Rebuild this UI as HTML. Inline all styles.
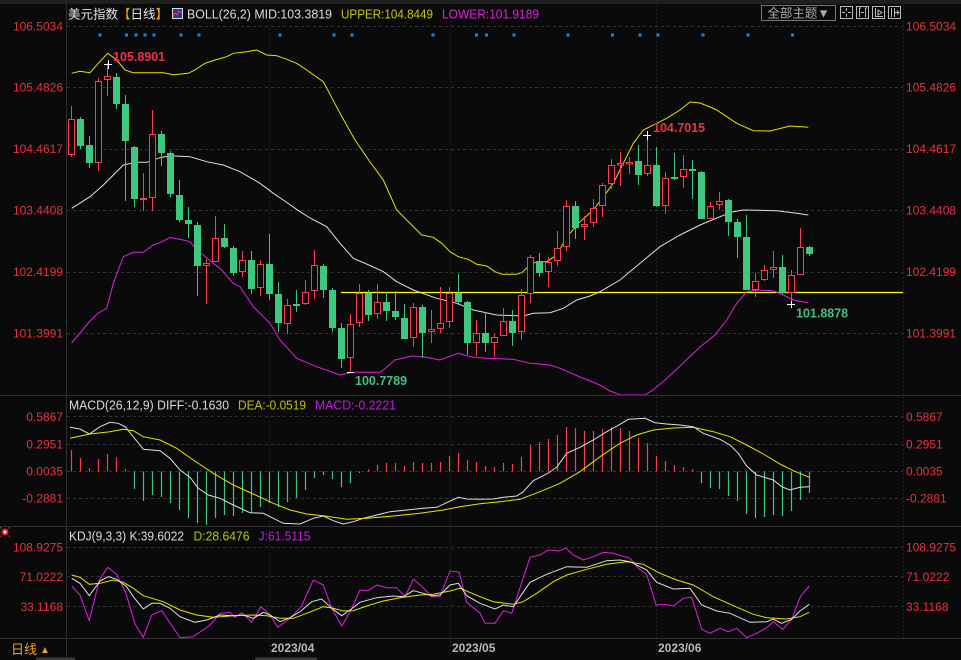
<!DOCTYPE html>
<html><head><meta charset="utf-8">
<style>
html,body{margin:0;padding:0;background:#0a0a0a;}
svg{display:block;font-family:"Liberation Sans","Noto Sans CJK SC",sans-serif;}
.lg{stroke:#3ec77f;stroke-width:1}
.rg{fill:#3ec77f}
.lr{stroke:#ff3b4e;stroke-width:1}
.rr{fill:#0a0a0a;stroke:#ff3b4e;stroke-width:1}
.ax{fill:#e8323c;font-size:12px}
.grid{stroke:#333;stroke-width:1;stroke-dasharray:3 3}
.vg{stroke:#333;stroke-width:1;stroke-dasharray:1 3}
.sep{stroke:#2e2e2e;stroke-width:1}
</style></head>
<body>
<svg width="961" height="660" viewBox="0 0 961 660" xmlns="http://www.w3.org/2000/svg">
<defs>
<clipPath id="cm"><rect x="67" y="5" width="836" height="390"/></clipPath>
<clipPath id="cd"><rect x="67" y="396" width="836" height="130"/></clipPath>
<clipPath id="ck"><rect x="67" y="527" width="836" height="111"/></clipPath>
</defs>
<rect x="0" y="0" width="961" height="660" fill="#0a0a0a"/>
<rect x="0" y="0" width="961" height="4" fill="#1f1f1f"/>

<!-- separators -->
<line class="sep" x1="66.5" y1="4" x2="66.5" y2="660"/>
<line class="vg" x1="903.5" y1="5" x2="903.5" y2="638"/>
<line class="sep" x1="0" y1="395.5" x2="961" y2="395.5"/>
<line class="sep" x1="0" y1="526.5" x2="961" y2="526.5"/>
<line class="sep" x1="0" y1="638.5" x2="961" y2="638.5"/>

<!-- grids main -->
<line class="grid" x1="67" y1="26.5" x2="903" y2="26.5"/>
<line class="grid" x1="67" y1="87.5" x2="903" y2="87.5"/>
<line class="grid" x1="67" y1="149.5" x2="903" y2="149.5"/>
<line class="grid" x1="67" y1="210.5" x2="903" y2="210.5"/>
<line class="grid" x1="67" y1="272.5" x2="903" y2="272.5"/>
<line class="grid" x1="67" y1="333.5" x2="903" y2="333.5"/>
<!-- grids macd -->
<line class="grid" x1="67" y1="416.5" x2="903" y2="416.5"/>
<line class="grid" x1="67" y1="444.5" x2="903" y2="444.5"/>
<line class="grid" x1="67" y1="471.5" x2="903" y2="471.5"/>
<line class="grid" x1="67" y1="498.5" x2="903" y2="498.5"/>
<!-- grids kdj -->
<line class="grid" x1="67" y1="547.5" x2="903" y2="547.5"/>
<line class="grid" x1="67" y1="576.5" x2="903" y2="576.5"/>
<line class="grid" x1="67" y1="606.5" x2="903" y2="606.5"/>
<!-- vertical date grids -->
<line class="vg" x1="269.5" y1="5" x2="269.5" y2="655"/>
<line class="vg" x1="450.5" y1="5" x2="450.5" y2="655"/>
<line class="vg" x1="656.5" y1="5" x2="656.5" y2="655"/>

<!-- axis labels -->
<g class="ax" text-anchor="end">
<text x="63" y="30.5">106.5034</text>
<text x="63" y="91.5">105.4826</text>
<text x="63" y="153">104.4617</text>
<text x="63" y="214.5">103.4408</text>
<text x="63" y="276">102.4199</text>
<text x="63" y="337.5">101.3991</text>
<text x="63" y="421">0.5867</text>
<text x="63" y="448.5">0.2951</text>
<text x="63" y="475.5">0.0035</text>
<text x="63" y="502.5">-0.2881</text>
<text x="63" y="551.5">108.9275</text>
<text x="63" y="581">71.0222</text>
<text x="63" y="611">33.1168</text>
</g>
<g class="ax">
<text x="906" y="30.5">106.5034</text>
<text x="906" y="91.5">105.4826</text>
<text x="906" y="153">104.4617</text>
<text x="906" y="214.5">103.4408</text>
<text x="906" y="276">102.4199</text>
<text x="906" y="337.5">101.3991</text>
<text x="906" y="421">0.5867</text>
<text x="906" y="448.5">0.2951</text>
<text x="906" y="475.5">0.0035</text>
<text x="906" y="502.5">-0.2881</text>
<text x="906" y="551.5">108.9275</text>
<text x="906" y="581">71.0222</text>
<text x="906" y="611">33.1168</text>
</g>

<!-- header main -->
<text x="68" y="18.5" font-size="12.5" fill="#e6e6e6">美元指数<tspan fill="#f0a020">【</tspan><tspan fill="#e6e6e6">日线</tspan><tspan fill="#f0a020">】</tspan></text>
<rect x="172.5" y="8.5" width="10" height="10" fill="#1b3c9e" stroke="#dddddd" stroke-width="1"/>
<polyline points="173,17 175,13 177,15 179,11 182,13" fill="none" stroke="#ff3040" stroke-width="1"/>
<text x="187" y="18.5" font-size="12.5" fill="#dcdcdc" textLength="145" lengthAdjust="spacingAndGlyphs">BOLL(26,2) MID:103.3819</text>
<text x="341" y="18.5" font-size="12.5" fill="#c8c800" textLength="92" lengthAdjust="spacingAndGlyphs">UPPER:104.8449</text>
<text x="442" y="18.5" font-size="12.5" fill="#e020e0" textLength="97" lengthAdjust="spacingAndGlyphs">LOWER:101.9189</text>

<!-- buttons -->
<rect x="761.5" y="5.5" width="74" height="15" fill="none" stroke="#777" stroke-width="1"/>
<text x="798.5" y="17.5" font-size="12.5" fill="#aaaaaa" text-anchor="middle">全部主题▼</text>
<g fill="none" stroke="#bbbbbb" stroke-width="1">
<rect x="840.5" y="6.5" width="12" height="12"/>
<path d="M846.5 8v3M846.5 14v3M842 12.5h3M848 12.5h3"/>
<rect x="856.5" y="6.5" width="12" height="12"/>
<path d="M859.5 8v9M865.5 8v9M859 8h2M865 8h2M861 12.5h3"/>
<rect x="872.5" y="6.5" width="12" height="12"/>
<path d="M875.5 8v9M875 16.5h8M878 10l4 2.5l-4 2.5z"/>
<rect x="888.5" y="6.5" width="12" height="12"/>
<path d="M891.5 8v9M894.5 8v9M894 12.5h5M897 10.5l2 2l-2 2"/>
</g>

<!-- blue dots -->
<g fill="#1f86d8">
<rect x="98.5" y="33.5" width="3" height="3"/>
<rect x="125" y="33.5" width="3" height="3"/>
<rect x="134.5" y="33.5" width="3" height="3"/>
<rect x="143.5" y="33.5" width="3" height="3"/>
<rect x="152.5" y="33.5" width="3" height="3"/>
<rect x="179.5" y="33.5" width="3" height="3"/>
<rect x="197.5" y="33.5" width="3" height="3"/>
<rect x="278.5" y="33.5" width="3" height="3"/>
<rect x="332.5" y="33.5" width="3" height="3"/>
<rect x="350.5" y="33.5" width="3" height="3"/>
<rect x="431.5" y="33.5" width="3" height="3"/>
<rect x="475" y="33.5" width="3" height="3"/>
<rect x="485" y="33.5" width="3" height="3"/>
<rect x="512.5" y="33.5" width="3" height="3"/>
<rect x="566.5" y="33.5" width="3" height="3"/>
<rect x="611" y="33.5" width="3" height="3"/>
<rect x="638.5" y="33.5" width="3" height="3"/>
<rect x="656.5" y="33.5" width="3" height="3"/>
<rect x="701.5" y="33.5" width="3" height="3"/>
<rect x="746.5" y="33.5" width="3" height="3"/>
<rect x="791" y="33.5" width="3" height="3"/>
</g>

<g clip-path="url(#cm)">
<!-- yellow horizontal line -->
<line x1="341" y1="292.5" x2="903" y2="292.5" stroke="#ffff00" stroke-width="1.2"/>
<!-- bands -->
<polyline fill="none" stroke="#e6e600" stroke-width="1" points="71.7,73.3 80,71.3 90,72.7 98.3,63.3 107.7,53.3 116.7,60 125,70 133.3,72.7 143.3,72.7 153.3,72.7 163.3,72.7 173.3,74.7 188.3,73.3 195,70 205,63.3 215,60 226.7,56.7 233.3,53.3 246.7,51.7 256.7,50 266.7,55 276.7,55.7 286.7,59.3 296.7,63.3 306.7,70 323.3,81.7 340,113.3 355,140 370,162 383.3,180 396.7,210 403.3,216.7 421.7,235 433.3,237.3 441.7,243.3 450,251.7 458.3,256.7 468.3,259.3 476.7,264.3 486.7,266 495,271.7 501.7,274.3 516.7,274.3 521.7,272.7 530,265 536.7,261.7 546.7,261.7 556.7,255 563.3,243.3 570,233.3 578.3,223.3 593.3,210 613.3,183.3 623.3,163.3 633.3,143.3 643.3,130 656.7,123.3 666.7,118.3 680,110 690,102 700,103 710,107 716.7,110 736.7,123.3 753.3,130.7 770,131 790,126 808.3,127.3"/>
<polyline fill="none" stroke="#e0e0e0" stroke-width="1" points="71.7,208.3 90,196.7 103.3,185 113.3,175 123.3,165 136.7,162.3 146.7,162.3 160,157.7 170,155.7 190,156.7 206.7,161.7 223.3,165 240,171.7 260,183.3 273.3,193.3 283.3,200 300,211.7 310,218 326.7,226.7 340,243.3 353.3,258.3 370,265.5 383.3,271.7 396.7,281.7 413.3,290 436.7,298.3 456.7,303.3 473.3,310 496.7,315 523.3,316 533.3,313.3 550,312.7 563.3,308.3 576.7,300 590,296 600,291.7 620,280 640,263.3 660,246.7 680,235 700,225 720,216.7 733.3,211.7 743.3,210 776.7,210.7 796.7,213.3 808.3,215"/>
<polyline fill="none" stroke="#e020e0" stroke-width="1" points="71.7,343 90,321 98.3,313 106.7,308.3 113.3,283.3 123.3,256.7 133.3,252.3 143.3,252.3 153.3,245 160,242.7 170,237.5 183.3,240 190,241.7 196.7,250 203.3,255 213.3,263.3 220,268.3 233.3,283.3 240,286.7 253.3,306.7 256.7,310 270,323.3 280,340 296.7,358.3 316.7,366.7 340,375 353.3,372.3 380,372.3 383.3,370 395,360 411.7,356 423.3,356.7 440,360 458.3,353.3 470,356.7 486.7,358.3 513.3,359.3 530,363.3 550,365 560,368.3 580,377 600,385 608,390 620,395 645,395 653,390 665,380 680,366 700,347 715,335 726.7,320 736.7,303.3 746.7,291.7 756.7,290 773.3,290.7 783.3,295 793.3,300 808.3,302.7"/>

<!-- candles -->
<line class="lr" x1="71.5" y1="106" x2="71.5" y2="157"/><rect class="rr" x="68.5" y="119.5" width="6" height="35"/>
<line class="lg" x1="80.5" y1="117" x2="80.5" y2="149"/><rect class="rg" x="77" y="119" width="7" height="27"/>
<line class="lg" x1="89.5" y1="136" x2="89.5" y2="168"/><rect class="rg" x="86" y="145" width="7" height="18"/>
<line class="lr" x1="98.5" y1="78" x2="98.5" y2="171"/><rect class="rr" x="95.5" y="81.5" width="6" height="81"/>
<line class="lr" x1="107.5" y1="63" x2="107.5" y2="96"/><rect class="rr" x="104.5" y="76.5" width="6" height="3"/>
<line class="lg" x1="116.5" y1="73" x2="116.5" y2="109"/><rect class="rg" x="113" y="77" width="7" height="27"/>
<line class="lg" x1="125.5" y1="95" x2="125.5" y2="201"/><rect class="rg" x="122" y="104" width="7" height="37"/>
<line class="lg" x1="134.5" y1="146" x2="134.5" y2="207"/><rect class="rg" x="131" y="147" width="7" height="52"/>
<line class="lr" x1="143.5" y1="173" x2="143.5" y2="211"/><rect class="rr" x="140.5" y="198.5" width="6" height="1"/>
<line class="lr" x1="152.5" y1="110" x2="152.5" y2="211"/><rect class="rr" x="149.5" y="134.5" width="6" height="63"/>
<line class="lg" x1="161.5" y1="131" x2="161.5" y2="166"/><rect class="rg" x="158" y="134" width="7" height="19"/>
<line class="lg" x1="170.5" y1="151" x2="170.5" y2="197"/><rect class="rg" x="167" y="153" width="7" height="41"/>
<line class="lg" x1="179.5" y1="180" x2="179.5" y2="222"/><rect class="rg" x="176" y="195" width="7" height="25"/>
<line class="lg" x1="188.5" y1="207" x2="188.5" y2="238"/><rect class="rg" x="185" y="220" width="7" height="4"/>
<line class="lg" x1="197.5" y1="222" x2="197.5" y2="296"/><rect class="rg" x="194" y="225" width="7" height="41"/>
<line class="lr" x1="206.5" y1="259" x2="206.5" y2="304"/><rect class="rr" x="203.5" y="263.5" width="6" height="2"/>
<line class="lr" x1="215.5" y1="216" x2="215.5" y2="262"/><rect class="rr" x="212.5" y="238.5" width="6" height="23"/>
<line class="lg" x1="224.5" y1="224" x2="224.5" y2="248"/><rect class="rg" x="221" y="238" width="7" height="9"/>
<line class="lg" x1="233.5" y1="246" x2="233.5" y2="276"/><rect class="rg" x="230" y="248" width="7" height="25"/>
<line class="lr" x1="242.5" y1="251" x2="242.5" y2="277"/><rect class="rr" x="239.5" y="260.5" width="6" height="11"/>
<line class="lg" x1="251.5" y1="251" x2="251.5" y2="294"/><rect class="rg" x="248" y="260" width="7" height="29"/>
<line class="lr" x1="260.5" y1="260" x2="260.5" y2="296"/><rect class="rr" x="257.5" y="264.5" width="6" height="23"/>
<line class="lg" x1="269.5" y1="234" x2="269.5" y2="300"/><rect class="rg" x="266" y="264" width="7" height="30"/>
<line class="lg" x1="278.5" y1="282" x2="278.5" y2="332"/><rect class="rg" x="275" y="294" width="7" height="29"/>
<line class="lr" x1="287.5" y1="299" x2="287.5" y2="334"/><rect class="rr" x="284.5" y="305.5" width="6" height="18"/>
<line class="lg" x1="296.5" y1="290" x2="296.5" y2="312"/><rect class="rg" x="293" y="304" width="7" height="2"/>
<line class="lr" x1="305.5" y1="280" x2="305.5" y2="305"/><rect class="rr" x="302.5" y="292.5" width="6" height="11"/>
<line class="lr" x1="314.5" y1="250" x2="314.5" y2="299"/><rect class="rr" x="311.5" y="265.5" width="6" height="25"/>
<line class="lg" x1="323.5" y1="264" x2="323.5" y2="298"/><rect class="rg" x="320" y="266" width="7" height="24"/>
<line class="lg" x1="332.5" y1="288" x2="332.5" y2="332"/><rect class="rg" x="329" y="290" width="7" height="38"/>
<line class="lg" x1="341.5" y1="323" x2="341.5" y2="368"/><rect class="rg" x="338" y="328" width="7" height="31"/>
<line class="lr" x1="350.5" y1="314" x2="350.5" y2="373"/><rect class="rr" x="347.5" y="324.5" width="6" height="33"/>
<line class="lr" x1="359.5" y1="284" x2="359.5" y2="327"/><rect class="rr" x="356.5" y="293.5" width="6" height="29"/>
<line class="lg" x1="368.5" y1="290" x2="368.5" y2="321"/><rect class="rg" x="365" y="293" width="7" height="22"/>
<line class="lr" x1="377.5" y1="284" x2="377.5" y2="319"/><rect class="rr" x="374.5" y="302.5" width="6" height="11"/>
<line class="lg" x1="386.5" y1="292" x2="386.5" y2="321"/><rect class="rg" x="383" y="302" width="7" height="9"/>
<line class="lg" x1="395.5" y1="291" x2="395.5" y2="320"/><rect class="rg" x="392" y="311" width="7" height="6"/>
<line class="lg" x1="404.5" y1="304" x2="404.5" y2="339"/><rect class="rg" x="401" y="318" width="7" height="21"/>
<line class="lr" x1="413.5" y1="303" x2="413.5" y2="347"/><rect class="rr" x="410.5" y="307.5" width="6" height="30"/>
<line class="lg" x1="422.5" y1="305" x2="422.5" y2="358"/><rect class="rg" x="419" y="307" width="7" height="26"/>
<line class="lr" x1="431.5" y1="310" x2="431.5" y2="343"/><rect class="rr" x="428.5" y="329.5" width="6" height="2"/>
<line class="lr" x1="440.5" y1="287" x2="440.5" y2="333"/><rect class="rr" x="437.5" y="323.5" width="6" height="5"/>
<line class="lr" x1="449.5" y1="287" x2="449.5" y2="328"/><rect class="rr" x="446.5" y="293.5" width="6" height="28"/>
<line class="lg" x1="458.5" y1="274" x2="458.5" y2="304"/><rect class="rg" x="455" y="293" width="7" height="9"/>
<line class="lg" x1="467.5" y1="301" x2="467.5" y2="355"/><rect class="rg" x="464" y="302" width="7" height="41"/>
<line class="lr" x1="476.5" y1="320" x2="476.5" y2="356"/><rect class="rr" x="473.5" y="333.5" width="6" height="9"/>
<line class="lg" x1="485.5" y1="312" x2="485.5" y2="352"/><rect class="rg" x="482" y="333" width="7" height="10"/>
<line class="lr" x1="494.5" y1="334" x2="494.5" y2="357"/><rect class="rr" x="491.5" y="337.5" width="6" height="5"/>
<line class="lr" x1="503.5" y1="308" x2="503.5" y2="336"/><rect class="rr" x="500.5" y="321.5" width="6" height="14"/>
<line class="lg" x1="512.5" y1="310" x2="512.5" y2="346"/><rect class="rg" x="509" y="321" width="7" height="12"/>
<line class="lr" x1="521.5" y1="289" x2="521.5" y2="340"/><rect class="rr" x="518.5" y="295.5" width="6" height="36"/>
<line class="lr" x1="530.5" y1="255" x2="530.5" y2="303"/><rect class="rr" x="527.5" y="257.5" width="6" height="36"/>
<line class="lg" x1="539.5" y1="253" x2="539.5" y2="277"/><rect class="rg" x="536" y="261" width="7" height="12"/>
<line class="lr" x1="548.5" y1="257" x2="548.5" y2="287"/><rect class="rr" x="545.5" y="262.5" width="6" height="9"/>
<line class="lr" x1="557.5" y1="231" x2="557.5" y2="266"/><rect class="rr" x="554.5" y="248.5" width="6" height="12"/>
<line class="lr" x1="566.5" y1="200" x2="566.5" y2="251"/><rect class="rr" x="563.5" y="206.5" width="6" height="40"/>
<line class="lg" x1="575.5" y1="201" x2="575.5" y2="239"/><rect class="rg" x="572" y="206" width="7" height="22"/>
<line class="lr" x1="584.5" y1="216" x2="584.5" y2="240"/><rect class="rr" x="581.5" y="224.5" width="6" height="2"/>
<line class="lr" x1="593.5" y1="199" x2="593.5" y2="227"/><rect class="rr" x="590.5" y="208.5" width="6" height="14"/>
<line class="lr" x1="602.5" y1="183" x2="602.5" y2="217"/><rect class="rr" x="599.5" y="185.5" width="6" height="20"/>
<line class="lr" x1="611.5" y1="159" x2="611.5" y2="189"/><rect class="rr" x="608.5" y="165.5" width="6" height="18"/>
<line class="lr" x1="620.5" y1="152" x2="620.5" y2="186"/><rect class="rr" x="617.5" y="163.5" width="6" height="1.5"/>
<line class="lr" x1="629.5" y1="157" x2="629.5" y2="174"/><rect class="rr" x="626.5" y="162.5" width="6" height="1.5"/>
<line class="lg" x1="638.5" y1="145" x2="638.5" y2="185"/><rect class="rg" x="635" y="161" width="7" height="14"/>
<line class="lr" x1="647.5" y1="135" x2="647.5" y2="176"/><rect class="rr" x="644.5" y="165.5" width="6" height="8"/>
<line class="lg" x1="656.5" y1="147" x2="656.5" y2="207"/><rect class="rg" x="653" y="165" width="7" height="41"/>
<line class="lr" x1="665.5" y1="172" x2="665.5" y2="214"/><rect class="rr" x="662.5" y="178.5" width="6" height="27"/>
<line class="lg" x1="674.5" y1="153" x2="674.5" y2="180"/><rect class="rg" x="671" y="177" width="7" height="2"/>
<line class="lr" x1="683.5" y1="155" x2="683.5" y2="188"/><rect class="rr" x="680.5" y="169.5" width="6" height="7"/>
<line class="lg" x1="692.5" y1="160" x2="692.5" y2="199"/><rect class="rg" x="689" y="169" width="7" height="2"/>
<line class="lg" x1="701.5" y1="171" x2="701.5" y2="219"/><rect class="rg" x="698" y="172" width="7" height="47"/>
<line class="lr" x1="710.5" y1="202" x2="710.5" y2="219"/><rect class="rr" x="707.5" y="206.5" width="6" height="12"/>
<line class="lr" x1="719.5" y1="192" x2="719.5" y2="210"/><rect class="rr" x="716.5" y="201.5" width="6" height="3"/>
<line class="lg" x1="728.5" y1="199" x2="728.5" y2="236"/><rect class="rg" x="725" y="200" width="7" height="22"/>
<line class="lg" x1="737.5" y1="219" x2="737.5" y2="258"/><rect class="rg" x="734" y="222" width="7" height="15"/>
<line class="lg" x1="746.5" y1="215" x2="746.5" y2="290"/><rect class="rg" x="743" y="237" width="7" height="53"/>
<line class="lr" x1="755.5" y1="273" x2="755.5" y2="297"/><rect class="rr" x="752.5" y="281.5" width="6" height="8"/>
<line class="lr" x1="764.5" y1="265" x2="764.5" y2="281"/><rect class="rr" x="761.5" y="270.5" width="6" height="9"/>
<line class="lr" x1="773.5" y1="251" x2="773.5" y2="278"/><rect class="rr" x="770.5" y="267.5" width="6" height="2"/>
<line class="lg" x1="782.5" y1="255" x2="782.5" y2="294"/><rect class="rg" x="779" y="267" width="7" height="26"/>
<line class="lr" x1="791.5" y1="270" x2="791.5" y2="302"/><rect class="rr" x="788.5" y="275.5" width="6" height="17"/>
<line class="lr" x1="800.5" y1="228" x2="800.5" y2="275"/><rect class="rr" x="797.5" y="247.5" width="6" height="27"/>
<line class="lg" x1="809.5" y1="246" x2="809.5" y2="256"/><rect class="rg" x="806" y="247" width="7" height="7"/>

<!-- markers -->
<g stroke="#ffffff" stroke-width="1">
<path d="M104 64.5h8M108.5 60v9"/>
<path d="M643 135.5h8M647.5 131v9"/>
<path d="M787 304.5h8M791.5 301v7"/>
<path d="M347 372.5h7"/>
</g>
<text x="113" y="61" font-size="12.5" font-weight="bold" fill="#f0304a">105.8901</text>
<text x="653" y="132" font-size="12.5" font-weight="bold" fill="#f0304a">104.7015</text>
<text x="796" y="317.5" font-size="12.5" font-weight="bold" fill="#40c080">101.8878</text>
<text x="355" y="385" font-size="12.5" font-weight="bold" fill="#40c080">100.7789</text>
</g>

<!-- MACD header -->
<text x="69" y="409.5" font-size="12.5" fill="#dcdcdc" textLength="160" lengthAdjust="spacingAndGlyphs">MACD(26,12,9) DIFF:-0.1630</text>
<text x="238" y="409.5" font-size="12.5" fill="#c0c000" textLength="68" lengthAdjust="spacingAndGlyphs">DEA:-0.0519</text>
<text x="315" y="409.5" font-size="12.5" fill="#c020e0" textLength="81" lengthAdjust="spacingAndGlyphs">MACD:-0.2221</text>

<g clip-path="url(#cd)">
<g stroke="#ff3b4e" stroke-width="1.2">
<path d="M71.5 471.5V450M80.5 471.5V458M89.5 471.5V468M98.5 471.5V459M107.5 471.5V454M116.5 471.5V457M125.5 471.5V469"/>
<path d="M368.5 471.5V469M377.5 471.5V465M386.5 471.5V463M395.5 471.5V463M404.5 471.5V466M413.5 471.5V462M422.5 471.5V463M431.5 471.5V463M440.5 471.5V462M449.5 471.5V456M458.5 471.5V453M467.5 471.5V460M476.5 471.5V462M485.5 471.5V466M494.5 471.5V467M503.5 471.5V463M512.5 471.5V464M521.5 471.5V457M530.5 471.5V445M539.5 471.5V442M548.5 471.5V439M557.5 471.5V435M566.5 471.5V427M575.5 471.5V428M584.5 471.5V431M593.5 471.5V431M602.5 471.5V429M611.5 471.5V427M620.5 471.5V428M629.5 471.5V431M638.5 471.5V438M647.5 471.5V443M656.5 471.5V456M665.5 471.5V461M674.5 471.5V465M683.5 471.5V467M692.5 471.5V469"/>
</g>
<g stroke="#3ec77f" stroke-width="1.2">
<path d="M134.5 471.5V489M143.5 471.5V501M152.5 471.5V495M161.5 471.5V497M170.5 471.5V503M179.5 471.5V510M188.5 471.5V518M197.5 471.5V523M206.5 471.5V525M215.5 471.5V518M224.5 471.5V515M233.5 471.5V516M242.5 471.5V513M251.5 471.5V513M260.5 471.5V507M269.5 471.5V503M278.5 471.5V507M287.5 471.5V502M296.5 471.5V498M305.5 471.5V490M314.5 471.5V478M323.5 471.5V475M332.5 471.5V479M341.5 471.5V487M350.5 471.5V483M359.5 471.5V473"/>
<path d="M701.5 471.5V483M710.5 471.5V488M719.5 471.5V489M728.5 471.5V496M737.5 471.5V501M746.5 471.5V514M755.5 471.5V518M764.5 471.5V517M773.5 471.5V515M782.5 471.5V516M791.5 471.5V511M800.5 471.5V500M809.5 471.5V493"/>
</g>
<polyline fill="none" stroke="#e0e0e0" stroke-width="1" points="70,427.3 80,429 89.3,434 100,426.7 110,422.3 118.3,423.3 125,426.7 133.3,436.7 143.3,449.3 160,450.7 170,458.3 180,470 190,477.3 198.3,488.3 208.3,495 220,498.3 233.3,505 250,512.7 263.3,513.3 273.3,518.3 283.3,523.3 300,524 313.3,518.3 323.3,516 333.3,520.7 343.3,524 353.3,521.7 363.3,518.3 376.7,515 390,511.7 406.7,510 423.3,508.3 436.7,507.3 446.7,502.7 458.3,497.3 466.7,499 480,499.3 493.3,499 503.3,497.3 516.7,496 523.3,491.7 533.3,480.7 546.7,474 556.7,467.3 566.7,453.3 580,447.3 593.3,440 606.7,431.7 620,424.3 628.3,419.3 645,418.3 655,422.7 666.7,424 680,425 693.3,426.7 703.3,433.3 720,439.3 730,445 738.3,453.3 746.7,466 756.7,475 773.3,480 781.7,486.7 790,490 800,487.3 809.3,486.7"/>
<polyline fill="none" stroke="#e6e600" stroke-width="1" points="70,438.3 90,434 110,431.7 123.3,429.3 133.3,430.7 143.3,436.7 160,440 176.7,448.3 193.3,460 213.3,473.3 233.3,485 253.3,494 273.3,503.3 290,510 306.7,514 323.3,515.7 346.7,519.3 366.7,518.3 393.3,516 420,513.3 443.3,510 460,506.7 480,503.7 500,501.7 520,499.3 540,491.7 560,483.3 580,471.7 600,456.7 620,443.3 636.7,435 653.3,430 673.3,428 693.3,427.3 713.3,431.7 730,436.7 746.7,445 763.3,454 780,464 793.3,470.7 809.3,477.3"/>
</g>

<!-- KDJ -->
<g>
<circle cx="5" cy="532" r="3.5" fill="#e02020"/>
<circle cx="5" cy="532" r="1.5" fill="#ffffff"/>
<path d="M0 527l1.5 1.5M10 527l-1.5 1.5M0 537l1.5-1.5M10 537l-1.5-1.5" stroke="#e02020" stroke-width="1"/>
</g>
<text x="69" y="540.5" font-size="12.5" fill="#dcdcdc" textLength="115" lengthAdjust="spacingAndGlyphs">KDJ(9,3,3) K:39.6022</text>
<text x="193.5" y="540.5" font-size="12.5" fill="#b8c800" textLength="56" lengthAdjust="spacingAndGlyphs">D:28.6476</text>
<text x="258.5" y="540.5" font-size="12.5" fill="#c020e0" textLength="52" lengthAdjust="spacingAndGlyphs">J:61.5115</text>

<g clip-path="url(#ck)">
<polyline fill="none" stroke="#e020e0" stroke-width="1" points="71.7,586 80,595 89.3,620.7 99.3,580 107.7,567.3 116.7,574.3 126,593.3 135,624 143.3,637.3 151.7,615 161.7,610.7 180,637.7 193.3,636.7 210,625 220,613.3 230,612.3 235,617.3 241.7,612.7 251.7,622.3 261,606.7 270,615 277.7,627.3 290,618.3 301.7,606 313.3,580 323.3,585 331.7,608.3 341.7,626 350,612.3 360,590 368.3,590.7 376.7,585 386.7,587.7 396.7,587.7 405,596.7 413.3,579.3 423.3,587.7 431.7,596.7 440,596.7 450,571 459.3,572.3 466.7,602.3 480,613 485,623.3 495,623.3 503.3,610.7 511.7,613.3 530,557.3 540,555 548.3,550 558.3,551 566,548.3 573.3,555 583.3,560 593.3,556.7 603.3,552.3 613.3,553.3 630,558.3 638.3,568.3 646.7,574.3 656,605 665,604.3 673.3,606 683.3,598.3 691.7,597.3 701.7,629.3 710,633.3 720,628.3 728.3,631.7 736.7,628.3 746.7,637.7 756.7,633.3 766.7,627.7 773.3,621.7 782.7,629.3 791.7,619.3 800.7,596 809.3,586"/>
<polyline fill="none" stroke="#e6e600" stroke-width="1" points="71.7,575 80,577.3 89.3,584.3 100,583.3 113.3,580 123.3,582.3 133.3,588.3 143.3,595.7 163.3,601.7 180,610 196.7,615 213.3,617.3 233.3,615.7 253.3,615 266.7,615.7 280,618.3 293.3,618.3 306.7,613.3 323.3,606.7 333.3,608.3 343.3,611 353.3,610.7 366.7,606 383.3,601 400,597.7 420,595 433.3,594.3 450,591 460,588.3 480,596.7 493.3,601.7 513.3,604.3 523.3,601.7 536.7,593.3 553.3,581.7 566.7,575 586.7,569.3 606.7,564.3 626.7,561.7 643.3,564.3 660,573.3 676.7,580 693.3,585 713.3,596.7 733.3,605.7 753.3,614.3 766.7,617.7 786.7,619 800,616.7 809.3,612.3"/>
<polyline fill="none" stroke="#e0e0e0" stroke-width="1" points="71.7,578.3 80,583.3 89.3,595.7 100,581 108.3,576.7 116.7,579.3 126.7,586.7 133.3,596.7 143.3,609 151.7,603.3 160,603.3 170,608.3 180,616.7 195,622.3 206.7,620 220,615 233.3,615.7 243.3,615 253.3,618.3 263.3,612.3 270,615 280,621.7 290,617.7 300,611.7 311.7,601.7 321.7,599 331.7,608.3 341.7,615.7 350,610 360,602.3 376.7,597.7 393.3,596 403.3,596.7 413.3,590.7 423.3,593.3 431.7,595.7 440,595 450,585 458.3,583.3 466.7,595.7 480,603.3 495,609 503.3,605 513.3,606.7 530,582.3 546.7,574.3 566.7,566.7 586.7,567.3 606.7,560.7 620,560 630,561.7 646.7,570 656.7,582.3 673.3,589 690,588.3 701.7,605 716.7,611 730,613.3 750,622.3 766.7,621.7 773.3,619 781.7,623.3 791.7,619.3 800,611 809.3,604.3"/>
</g>

<!-- bottom bar -->
<text x="11" y="654" font-size="13" fill="#f0a030">日线</text>
<text x="40" y="653" font-size="10" fill="#f0a030">▲</text>
<g font-size="12" font-weight="bold" fill="#b8b8b8">
<text x="271" y="652">2023/04</text>
<text x="452" y="652">2023/05</text>
<text x="658" y="652">2023/06</text>
</g>
<rect x="36" y="657.5" width="39" height="2.5" fill="#3a3a3a"/>
<rect x="255" y="657.5" width="62" height="2.5" fill="#3a3a3a"/>
</svg>
</body></html>
